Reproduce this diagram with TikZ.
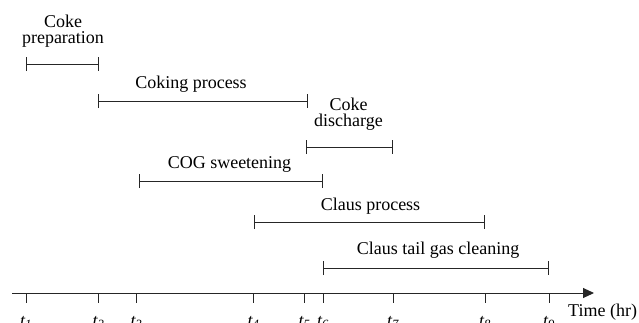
\documentclass[tikz,border=0pt]{standalone}
\usepackage{fontspec}
\setmainfont{Liberation Serif}
\usetikzlibrary{arrows.meta}
\begin{document}
\begin{tikzpicture}[x=1pt,y=-1pt,
  ink/.style={draw=black!85,line width=1pt},
  span/.style={ink,{Bar[width=14pt]}-{Bar[width=14pt]}},
  lbl/.style={font=\fontsize{18}{16.5}\selectfont,align=center,inner sep=0pt},
  tick/.style={ink},
  tlbl/.style={font=\fontsize{18}{18}\selectfont,inner sep=0pt,anchor=base}]
\useasboundingbox (0,0) rectangle (639,322);

% time axis
\coordinate (ax0) at (12,293);
\coordinate (ax1) at (594,293);
\draw[ink,-{Triangle[length=11pt,width=10pt]}] (ax0) -- (ax1);
\node[tlbl,anchor=base west] (time) at (568,316.5) {Time (hr)};

% ticks and their labels
\foreach \i/\x in {1/26,2/98.5,3/136.5,4/253.5,5/304.5,6/323,7/393,8/485,9/549}{
  \coordinate (t\i) at (\x,293);
  \coordinate (b\i) at (\x,303);
  \draw[tick] (t\i) -- (b\i);
  \node[tlbl] (l\i) at (\x,326) {\itshape t\textsubscript{\i}};
}

% activity spans
\coordinate (p1) at (26,64);   \coordinate (p2) at (99,64);
\coordinate (c1) at (98,101);  \coordinate (c2) at (308,101);
\coordinate (d1) at (306,147); \coordinate (d2) at (393,147);
\coordinate (s1) at (139,181); \coordinate (s2) at (323,181);
\coordinate (u1) at (254,222); \coordinate (u2) at (485,222);
\coordinate (v1) at (323,268); \coordinate (v2) at (549,268);

\draw[span] (p1) -- (p2);
\draw[span] (c1) -- (c2);
\draw[span] (d1) -- (d2);
\draw[span] (s1) -- (s2);
\draw[span] (u1) -- (u2);
\draw[span] (v1) -- (v2);

% activity names
\node[lbl,anchor=north] (prep) at (63,14.5) {Coke\\preparation};
\node[lbl,anchor=base] (coking) at (191,88) {Coking process};
\node[lbl,anchor=north] (disch) at (348.5,97.5) {Coke\\discharge};
\node[lbl,anchor=base] (cog) at (229.5,168) {COG sweetening};
\node[lbl,anchor=base] (claus) at (370.5,210.5) {Claus process};
\node[lbl,anchor=base] (tail) at (438,254) {Claus tail gas cleaning};
\end{tikzpicture}
\end{document}
